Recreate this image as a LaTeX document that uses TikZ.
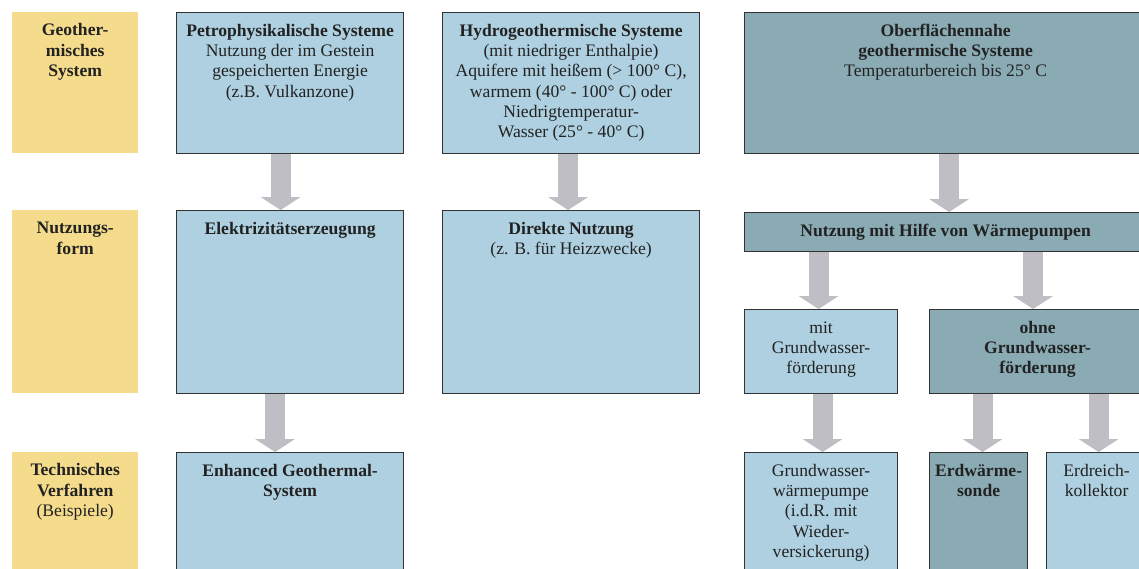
\documentclass[tikz,border=0pt]{standalone}
\usepackage{fontspec}
\setmainfont{Liberation Serif}
\usetikzlibrary{arrows.meta,calc}
\definecolor{labelyellow}{HTML}{F5DC8C}
\definecolor{lightblue}{HTML}{AED0E0}
\definecolor{darkteal}{HTML}{8AAAB4}
\definecolor{arrowgray}{HTML}{BEBEC4}
\definecolor{framegray}{HTML}{333333}
\definecolor{inkgray}{HTML}{222222}
\newcommand{\celltext}[3]{\parbox[c][#2][t]{#1}{\centering\rule{0pt}{23.5pt}#3}}
\begin{document}
\begin{tikzpicture}[x=1pt, y=-1pt,
  every node/.style={inner sep=0pt, anchor=north west, text=inkgray,
    font=\fontsize{17.6}{20.3}\selectfont},
  rowlabel/.style={fill=labelyellow},
  lightbox/.style={draw=framegray, line width=1.2pt, fill=lightblue},
  darkbox/.style={draw=framegray, line width=1.2pt, fill=darkteal},
  fat/.style={draw=arrowgray, line width=20pt,
    -{Triangle[width=40pt, length=13pt, line width'=0pt, fill=arrowgray]}}]
  % page frame; the bottom row and the right column run off the page
  \useasboundingbox (0,0) rectangle (1139,568);
  \clip (0,0) rectangle (1139,568);
  % row labels
  \node[rowlabel] (sysl) at (12,12) {\celltext{126pt}{141pt}{\textbf{Geother-}\\\textbf{misches}\\\textbf{System}}};
  \node[rowlabel] (usel) at (12,210) {\celltext{126pt}{183pt}{\textbf{Nutzungs-}\\\textbf{form}}};
  \node[rowlabel] (techl) at (12,452) {\celltext{126pt}{130pt}{\textbf{Technisches}\\\textbf{Verfahren}\\(Beispiele)}};
  % first column
  \node[lightbox] (petro) at (176,12) {\celltext{227pt}{141pt}{\textbf{Petrophysikalische Systeme}\\Nutzung der im Gestein\\gespeicherten Energie\\(z.B. Vulkanzone)}};
  \node[lightbox] (elek) at (176,210) {\celltext{227pt}{183pt}{\textbf{Elektrizitätserzeugung}}};
  \node[lightbox] (egs) at (176,452) {\celltext{227pt}{130pt}{\textbf{Enhanced Geothermal-}\\\textbf{System}}};
  % second column
  \node[lightbox] (hydro) at (442,12) {\celltext{257pt}{141pt}{\textbf{Hydrogeothermische Systeme}\\(mit niedriger Enthalpie)\\Aquifere mit heißem (> 100° C),\\warmem (40° - 100° C) oder\\Niedrigtemperatur-\\Wasser (25° - 40° C)}};
  \node[lightbox] (direkt) at (442,210) {\celltext{257pt}{183pt}{\textbf{Direkte Nutzung}\\(z. B. für Heizzwecke)}};
  % third column
  \node[darkbox] (ober) at (744,12) {\celltext{402pt}{141pt}{\textbf{Oberflächennahe}\\\textbf{geothermische Systeme}\\Temperaturbereich bis 25° C}};
  \node[darkbox, minimum width=402pt, minimum height=39pt] (wp) at (744,212) {\textbf{Nutzung mit Hilfe von Wärmepumpen}};
  \node[lightbox] (mitgw) at (744,309) {\celltext{153pt}{84pt}{mit\\Grundwasser-\\förderung}};
  \node[darkbox] (ohnegw) at (929,309) {\celltext{216pt}{84pt}{\textbf{ohne}\\\textbf{Grundwasser-}\\\textbf{förderung}}};
  \node[lightbox] (gwwp) at (744,452) {\celltext{153pt}{130pt}{Grundwasser-\\wärmepumpe\\(i.d.R. mit\\Wieder-\\versickerung)}};
  \node[darkbox] (sonde) at (929,452) {\celltext{98pt}{130pt}{\textbf{Erdwärme-}\\\textbf{sonde}}};
  \node[lightbox] (kollektor) at (1046,452) {\celltext{100pt}{130pt}{Erdreich-\\kollektor}};
  % arrows
  \draw[fat] ($(petro.south)+(-9.5,0)$) -- ($(elek.north)+(-9.5,0)$);
  \draw[fat] ($(elek.south)+(-15,0)$) -- ($(egs.north)+(-15,0)$);
  \draw[fat] ($(hydro.south)+(-3,0)$) -- ($(direkt.north)+(-3,0)$);
  \draw[fat] ($(ober.south)+(3.5,0)$) -- ($(wp.north)+(3.5,0)$);
  \draw[fat] ($(wp.south -| mitgw.north)+(-2.5,0)$) -- ($(mitgw.north)+(-2.5,0)$);
  \draw[fat] ($(wp.south -| ohnegw.north)+(-4.5,0)$) -- ($(ohnegw.north)+(-4.5,0)$);
  \draw[fat] ($(mitgw.south)+(1.5,0)$) -- ($(gwwp.north)+(1.5,0)$);
  \draw[fat] ($(ohnegw.south -| sonde.north)+(4,0)$) -- ($(sonde.north)+(4,0)$);
  \draw[fat] ($(ohnegw.south -| kollektor.north)+(2,0)$) -- ($(kollektor.north)+(2,0)$);
\end{tikzpicture}
\end{document}
